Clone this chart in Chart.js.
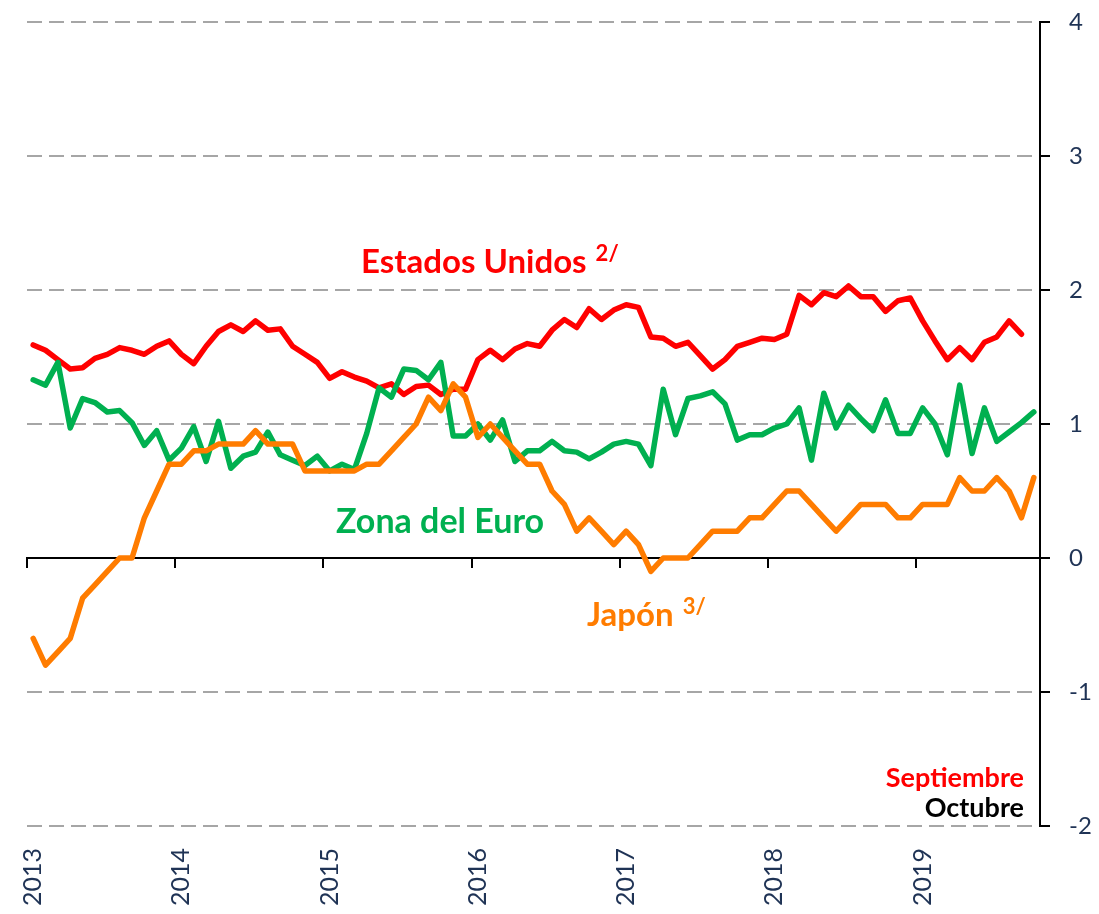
<!DOCTYPE html>
<html>
<head>
<meta charset="utf-8">
<script src="https://cdn.jsdelivr.net/npm/chart.js@4"></script>
<style>
  html, body { margin: 0; padding: 0; background: #ffffff; }
  #wrap { width: 1099px; height: 914px; position: relative; }
</style>
</head>
<body>
<div id="wrap"><canvas id="c"></canvas></div>
<script>
// ---- data ----
const yearLabels = ['2013', '2014', '2015', '2016', '2017', '2018', '2019'];
const monthNames = ['Ene', 'Feb', 'Mar', 'Abr', 'May', 'Jun', 'Jul', 'Ago', 'Sep', 'Oct', 'Nov', 'Dic'];
const lastMonthIndex2019 = 9; // Octubre 2019

// Estados Unidos (hasta septiembre 2019)
const usValues = [
  1.59, 1.55, 1.48, 1.41, 1.42, 1.49, 1.52, 1.57, 1.55, 1.52, 1.58, 1.62,
  1.52, 1.45, 1.58, 1.69, 1.74, 1.69, 1.77, 1.70, 1.71, 1.58, 1.52, 1.46,
  1.34, 1.39, 1.35, 1.32, 1.27, 1.30, 1.22, 1.28, 1.29, 1.22, 1.26, 1.26,
  1.48, 1.55, 1.48, 1.56, 1.60, 1.58, 1.70, 1.78, 1.72, 1.86, 1.78, 1.85,
  1.89, 1.87, 1.65, 1.64, 1.58, 1.61, 1.51, 1.41, 1.48, 1.58, 1.61, 1.64,
  1.63, 1.67, 1.96, 1.89, 1.98, 1.95, 2.03, 1.95, 1.95, 1.84, 1.92, 1.94,
  1.77, 1.62, 1.48, 1.57, 1.48, 1.61, 1.65, 1.77, 1.67
];
// Zona del Euro (hasta octubre 2019)
const euroValues = [
  1.33, 1.29, 1.46, 0.97, 1.19, 1.16, 1.09, 1.10, 1.01, 0.84, 0.95, 0.73,
  0.82, 0.98, 0.72, 1.02, 0.67, 0.76, 0.79, 0.94, 0.77, 0.73, 0.69, 0.76,
  0.65, 0.70, 0.66, 0.93, 1.27, 1.20, 1.41, 1.40, 1.33, 1.46, 0.91, 0.91,
  1.00, 0.88, 1.03, 0.72, 0.80, 0.80, 0.87, 0.80, 0.79, 0.74, 0.79, 0.85,
  0.87, 0.85, 0.69, 1.26, 0.92, 1.19, 1.21, 1.24, 1.15, 0.88, 0.92, 0.92,
  0.97, 1.00, 1.12, 0.73, 1.23, 0.97, 1.14, 1.04, 0.95, 1.18, 0.93, 0.93,
  1.12, 1.00, 0.77, 1.29, 0.78, 1.12, 0.87, 0.94, 1.01, 1.09
];
// Japón (hasta octubre 2019)
const japanValues = [
  -0.6, -0.8, -0.7, -0.6, -0.3, -0.2, -0.1, 0.0, 0.0, 0.3, 0.5, 0.7,
  0.7, 0.8, 0.8, 0.85, 0.85, 0.85, 0.95, 0.85, 0.85, 0.85, 0.65, 0.65,
  0.65, 0.65, 0.65, 0.7, 0.7, 0.8, 0.9, 1.0, 1.2, 1.1, 1.3, 1.2,
  0.9, 1.0, 0.9, 0.8, 0.7, 0.7, 0.5, 0.4, 0.2, 0.3, 0.2, 0.1,
  0.2, 0.1, -0.1, 0.0, 0.0, 0.0, 0.1, 0.2, 0.2, 0.2, 0.3, 0.3,
  0.4, 0.5, 0.5, 0.4, 0.3, 0.2, 0.3, 0.4, 0.4, 0.4, 0.3, 0.3,
  0.4, 0.4, 0.4, 0.6, 0.5, 0.5, 0.6, 0.5, 0.3, 0.6
];
const yTickValues = [-2, -1, 0, 1, 2, 3, 4];

// ---- build categories (monthly) ----
const categories = [];
yearLabels.forEach((yr, yi) => {
  monthNames.forEach((m, mi) => {
    if (yi === yearLabels.length - 1 && mi > lastMonthIndex2019) return;
    categories.push(m + ' ' + yr);
  });
});

const NAVY = '#1f3355';
const FONT = 'Lato';

const textLabels = {
  id: 'textLabels',
  afterDatasetsDraw(chart) {
    const ctx = chart.ctx;
    ctx.save();
    ctx.textBaseline = 'alphabetic';
    const items = [
      { t: 'Estados Unidos', x: 361, y: 273, size: 33, color: '#ff0000', align: 'left', sup: '2/' },
      { t: 'Zona del Euro', x: 336, y: 533, size: 34, color: '#00b050', align: 'left' },
      { t: 'Japón', x: 587, y: 626, size: 33, color: '#ff7c00', align: 'left', sup: '3/' },
      { t: 'Septiembre', x: 1024, y: 787, size: 27, color: '#ff0000', align: 'right' },
      { t: 'Octubre', x: 1024, y: 817, size: 27, color: '#000000', align: 'right' }
    ];
    items.forEach(it => {
      ctx.font = 'bold ' + it.size + 'px ' + FONT;
      ctx.fillStyle = it.color;
      ctx.textAlign = it.align;
      ctx.fillText(it.t, it.x, it.y);
      if (it.sup) {
        const w = ctx.measureText(it.t).width;
        ctx.font = 'bold 22px ' + FONT;
        ctx.textAlign = 'left';
        ctx.fillText(it.sup, it.x + w + 9, it.y - 12);
      }
    });
    ctx.restore();
  }
};

const isYearStart = (i) => i % 12 === 0;

new Chart(document.getElementById('c'), {
  type: 'line',
  data: {
    labels: categories,
    datasets: [
      { label: 'Japón', data: japanValues, borderColor: '#ff7c00' },
      { label: 'Zona del Euro', data: euroValues, borderColor: '#00b050' },
      { label: 'Estados Unidos', data: usValues, borderColor: '#ff0000' }
    ]
  },
  options: {
    responsive: true,
    maintainAspectRatio: false,
    animation: false,
    events: [],
    layout: { padding: { left: 27, right: 0, top: 22, bottom: 0 } },
    elements: {
      line: { borderWidth: 5.5, tension: 0, borderJoinStyle: 'round', borderCapStyle: 'round', fill: false },
      point: { radius: 0, hoverRadius: 0 }
    },
    plugins: { legend: { display: false }, tooltip: { enabled: false } },
    scales: {
      x: {
        type: 'category',
        position: { y: 0 },
        offset: true,
        afterFit: (s) => { s.height = 0; },
        grid: {
          display: true,
          offset: true,
          drawOnChartArea: false,
          drawTicks: true,
          tickLength: 9,
          lineWidth: 2,
          color: (c) => (isYearStart(c.index) ? '#000000' : 'rgba(0,0,0,0)'),
          tickColor: (c) => (isYearStart(c.index) ? '#000000' : 'rgba(0,0,0,0)')
        },
        border: { display: true, color: '#000000', width: 2 },
        ticks: { display: false, autoSkip: false }
      },
      x2: {
        type: 'category',
        position: 'bottom',
        offset: true,
        grid: { display: false, drawTicks: false },
        border: { display: false },
        afterFit: (s) => { s.height = 88; },
        ticks: {
          autoSkip: false,
          maxRotation: 90,
          minRotation: 90,
          padding: 22,
          color: NAVY,
          font: { family: FONT, size: 25 },
          callback: (v, i) => (isYearStart(i) ? yearLabels[i / 12] : '')
        }
      },
      y: {
        position: 'right',
        min: yTickValues[0],
        max: yTickValues[yTickValues.length - 1],
        afterBuildTicks: (s) => { s.ticks = yTickValues.map(v => ({ value: v })); },
        afterFit: (s) => { s.width = 59; s.paddingTop = 0; s.paddingBottom = 0; },
        ticks: { color: NAVY, font: { family: FONT, size: 24 }, padding: 19 },
        grid: {
          color: (c) => (c.tick && c.tick.value === 0 ? 'rgba(0,0,0,0)' : '#a6a6a6'),
          lineWidth: 2,
          drawTicks: true,
          tickLength: 10,
          tickColor: '#000000',
          tickWidth: 2,
          tickBorderDash: []
        },
        border: { display: true, color: '#000000', width: 2, dash: [15, 7] }
      }
    }
  },
  plugins: [textLabels]
});
</script>
</body>
</html>
